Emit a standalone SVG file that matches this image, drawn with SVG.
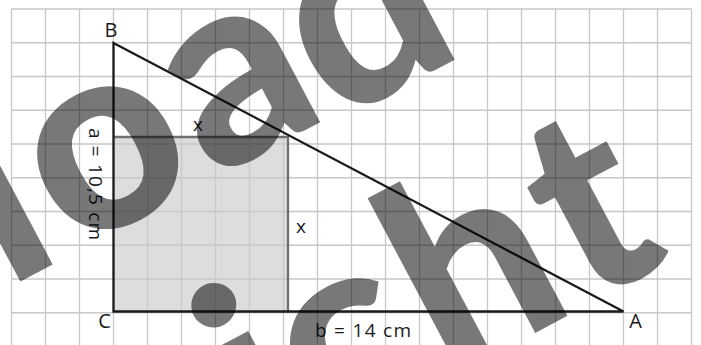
<svg xmlns="http://www.w3.org/2000/svg" width="701" height="345" viewBox="0 0 701 345">
<style>
.g{stroke:#c8c8c8;stroke-width:1.3;fill:none}
.lbl{font-family:"Open Sans","Liberation Sans",sans-serif;font-size:19px;fill:#1a1a1a}
.v{font-size:20px}
.wm{font-family:"Lato","Roboto","Inter",sans-serif;font-weight:900;font-size:265px;fill:#000;fill-opacity:0.53}
</style>
<rect width="701" height="345" fill="#fff"/>
<g id="square-fill"><rect x="113.5" y="137" width="174.5" height="174.5" fill="#dcdddf"/></g>
<g id="grid">
<path class="g" d="M11.5 9V345M45.5 9V345M79.5 9V345M113.5 9V345M147.5 9V345M181.5 9V345M215.5 9V345M249.5 9V345M283.5 9V345M317.5 9V345M351.5 9V345M385.5 9V345M419.5 9V345M453.5 9V345M487.5 9V345M521.5 9V345M555.5 9V345M589.5 9V345M623.5 9V345M657.5 9V345M691.5 9V345"/>
<path class="g" d="M11.5 9H691.5M11.5 42.75H691.5M11.5 76.5H691.5M11.5 110.25H691.5M11.5 144H691.5M11.5 177.75H691.5M11.5 211.5H691.5M11.5 245.25H691.5M11.5 279H691.5M11.5 312.75H691.5"/>
</g>
<g id="square"><path d="M113.5 137H288V311.5" fill="none" stroke="#6f6f6f" stroke-width="2.3"/></g>
<g id="triangle"><path d="M113.5 43L623.5 311.5H113.5Z" fill="none" stroke="#1a1a1a" stroke-width="2.3" stroke-linejoin="miter"/></g>
<g id="labels">
<text class="lbl v" x="111" y="37" text-anchor="middle">B</text>
<text class="lbl v" x="104.5" y="327.5" text-anchor="middle">C</text>
<text class="lbl v" x="635.5" y="327.5" text-anchor="middle">A</text>
<text class="lbl" x="198" y="130.5" text-anchor="middle">x</text>
<text class="lbl" x="301" y="233.3" text-anchor="middle">x</text>
<text class="lbl" x="315" y="337" textLength="96" lengthAdjust="spacing">b = 14 cm</text>
<text class="lbl" transform="translate(88.5,128) rotate(90)" textLength="112" lengthAdjust="spacing">a = 10,5 cm</text>
</g>
<g id="watermark">
<text class="wm" text-anchor="middle" transform="translate(36.5,273) rotate(-28)" x="0 117 267 409" y="0 0 0 8">load</text>
<text class="wm" text-anchor="middle" transform="translate(554,323) rotate(-28)" x="-292 -195 -46 86" y="0">icht</text>
</g>
</svg>
